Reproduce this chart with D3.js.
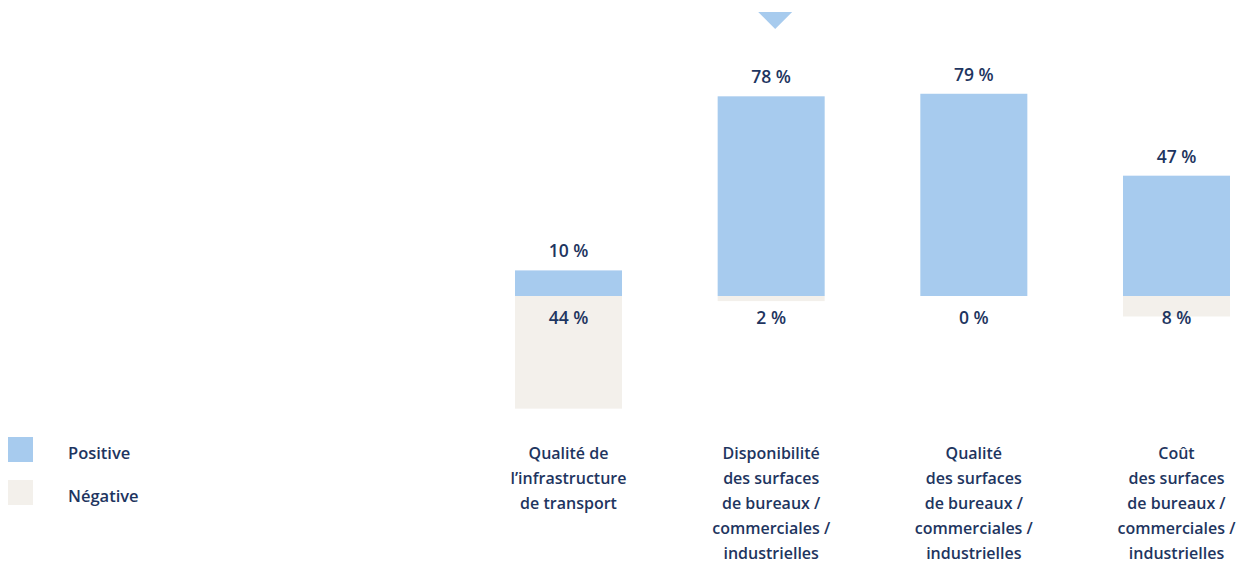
<!DOCTYPE html>
<html>
<head>
<meta charset="utf-8">
<script src="https://cdn.jsdelivr.net/npm/d3@7"></script>
<style>
  html, body { margin: 0; padding: 0; background: #fff; }
  svg { display: block; }
  text { font-family: "Open Sans", "Noto Sans", sans-serif; fill: #1e3560; }
</style>
</head>
<body>
<svg id="chart" width="1242" height="564"></svg>
<script>
// Survey results per location factor (% of respondents)
const categories = [
  ["Qualité de", "l’infrastructure", "de transport"],
  ["Disponibilité", "des surfaces", "de bureaux /", "commerciales /", "industrielles"],
  ["Qualité", "des surfaces", "de bureaux /", "commerciales /", "industrielles"],
  ["Coût", "des surfaces", "de bureaux /", "commerciales /", "industrielles"]
];
const positive = [10, 78, 79, 47];
const negative = [44, 2, 0, 8];
const seriesNames = ["Positive", "Négative"];
const colors = ["#a7cbee", "#f3f0eb"];
const highlightIndex = 1;

const svg = d3.select("#chart");
const keys = categories.map((c, i) => i);

const x = d3.scaleBand()
  .domain(keys)
  .range([515, 1230])
  .paddingInner(0.472)
  .paddingOuter(0);

const y = d3.scaleLinear()
  .domain([0, 100])
  .range([296, 40]);

const bars = svg.append("g").selectAll("g")
  .data(keys)
  .join("g");

// Negative share drawn below the zero line
bars.append("rect")
  .attr("x", i => x(i))
  .attr("width", x.bandwidth())
  .attr("y", y(0))
  .attr("height", i => y(-negative[i]) - y(0))
  .attr("fill", colors[1]);

// Positive share drawn above the zero line
bars.append("rect")
  .attr("x", i => x(i))
  .attr("width", x.bandwidth())
  .attr("y", i => y(positive[i]))
  .attr("height", i => y(0) - y(positive[i]))
  .attr("fill", colors[0]);

const fmt = v => v + " %";

bars.append("text")
  .attr("x", i => x(i) + x.bandwidth() / 2)
  .attr("y", i => y(positive[i]) - 13)
  .attr("text-anchor", "middle")
  .attr("font-size", 17.5)
  .attr("font-weight", 600)
  .text(i => fmt(positive[i]));

bars.append("text")
  .attr("x", i => x(i) + x.bandwidth() / 2)
  .attr("y", y(0) + 28)
  .attr("text-anchor", "middle")
  .attr("font-size", 17.5)
  .attr("font-weight", 600)
  .text(i => fmt(negative[i]));

// Category labels
bars.append("text")
  .attr("text-anchor", "middle")
  .attr("font-size", 16)
  .attr("font-weight", 600)
  .each(function(i) {
    const t = d3.select(this);
    categories[i].forEach((line, k) => {
      t.append("tspan")
        .attr("x", x(i) + x.bandwidth() / 2)
        .attr("y", 459 + k * 25)
        .text(line);
    });
  });

// Marker above the highlighted category
const cx = x(highlightIndex) + x.bandwidth() / 2 + 4;
svg.append("path")
  .attr("d", `M${cx - 17},12 L${cx + 17},12 L${cx},29 Z`)
  .attr("fill", colors[0]);

// Legend
const legend = svg.append("g").selectAll("g")
  .data(seriesNames)
  .join("g")
  .attr("transform", (d, i) => `translate(8, ${437 + i * 43})`);

legend.append("rect")
  .attr("width", 25)
  .attr("height", 25)
  .attr("fill", (d, i) => colors[i]);

legend.append("text")
  .attr("x", 60)
  .attr("y", 22)
  .attr("font-size", 16.5)
  .attr("font-weight", 600)
  .text(d => d);
</script>
</body>
</html>
